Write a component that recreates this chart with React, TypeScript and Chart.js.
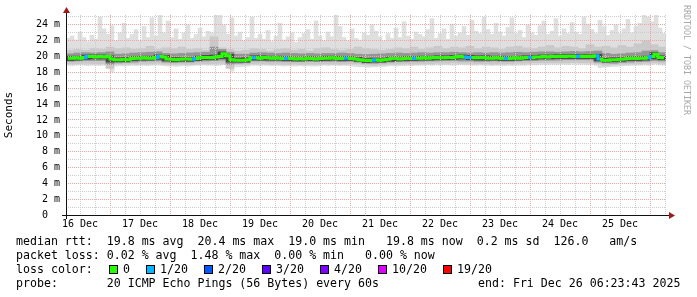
import React, { useEffect, useRef } from "react";
import { Chart, registerables } from "chart.js";

Chart.register(...registerables);

const MONO = "'DejaVu Sans Mono', 'Liberation Mono', monospace";

// time axis in hours since 16 Dec 00:00 ; graph spans 16 Dec 06:23:43 -> 26 Dec 06:23:43
const START_HOUR = 6.395;
const END_HOUR = 246.395;
const FINE_STEP = 1.6; // hours per fine sample
const COARSE_STEP = 3.2; // hours per coarse sample
const Y_MAX = 25.25;

const dayLabels = ["16 Dec", "17 Dec", "18 Dec", "19 Dec", "20 Dec", "21 Dec", "22 Dec", "23 Dec", "24 Dec", "25 Dec"];

// median rtt (ms), fine samples
const medianRtt = [
  19.8, 19.8, 19.85, 19.8, 19.9, 20.0, 20.0, 19.95, 20.0, 19.95,
  20.0, 19.7, 19.6, 19.6, 19.65, 19.6, 19.75, 19.8, 19.8, 19.85,
  19.8, 19.8, 19.9, 20.0, 19.95, 19.7, 19.65, 19.6, 19.65, 19.7,
  19.7, 19.65, 19.75, 19.85, 19.9, 19.9, 19.85, 19.95, 20.0, 20.35,
  20.1, 19.6, 19.55, 19.55, 19.55, 19.6, 19.85, 19.85, 19.8, 19.9,
  19.85, 19.8, 19.85, 19.8, 19.75, 19.8, 19.75, 19.7, 19.75, 19.7,
  19.8, 19.75, 19.7, 19.75, 19.8, 19.8, 19.85, 19.8, 19.75, 19.8,
  19.8, 19.75, 19.7, 19.6, 19.55, 19.5, 19.55, 19.6, 19.55, 19.6,
  19.65, 19.75, 19.75, 19.7, 19.75, 19.8, 19.75, 19.8, 19.8, 19.85,
  19.8, 19.85, 19.9, 19.85, 19.85, 19.9, 19.9, 19.95, 20.0, 19.95,
  19.9, 19.9, 19.85, 19.85, 19.9, 19.8, 19.8, 19.85, 19.8, 19.8,
  19.75, 19.8, 19.85, 19.8, 19.85, 19.9, 19.9, 19.95, 19.95, 20.0,
  19.95, 20.0, 20.0, 20.05, 20.0, 20.05, 20.05, 20.0, 20.05, 20.0,
  20.05, 20.0, 20.1, 19.7, 19.55, 19.55, 19.6, 19.6, 19.65, 19.7,
  19.75, 19.8, 19.75, 19.8, 19.8, 19.85, 20.0, 20.3, 19.9, 19.85,
];

// lost pings (out of 20) per fine sample
const medianLoss = [
  0, 0, 0, 0, 1, 0, 0, 0, 0, 0,
  0, 0, 0, 0, 0, 0, 0, 0, 0, 0,
  0, 0, 1, 0, 0, 0, 0, 0, 0, 0,
  0, 1, 0, 0, 0, 0, 0, 0, 0, 0,
  0, 0, 0, 0, 0, 0, 1, 0, 0, 0,
  0, 0, 0, 0, 1, 0, 0, 0, 0, 0,
  0, 0, 0, 0, 0, 0, 0, 0, 0, 1,
  0, 0, 0, 0, 0, 0, 1, 0, 0, 0,
  0, 0, 0, 0, 0, 0, 1, 0, 0, 0,
  0, 0, 0, 0, 0, 0, 0, 0, 0, 1,
  1, 0, 0, 0, 0, 0, 0, 0, 0, 1,
  0, 0, 0, 0, 0, 1, 0, 0, 0, 0,
  0, 0, 0, 0, 0, 0, 0, 1, 0, 0,
  0, 0, 1, 0, 0, 0, 0, 0, 0, 0,
  0, 0, 0, 0, 0, 1, 0, 0, 0, 0,
];

// outer smoke: slowest ping (ms), fine samples
const smokeMax = [
  22.3, 22.6, 22.1, 23.1, 22.4, 21.9, 22.7, 22.2, 25.0, 23.5,
  22.8, 23.9, 22.0, 23.0, 24.2, 22.3, 22.8, 23.4, 22.0, 23.8,
  22.4, 24.9, 22.6, 25.25, 23.0, 24.5, 22.4, 23.5, 22.2, 23.0,
  24.0, 22.3, 22.8, 23.6, 22.5, 23.2, 23.0, 25.25, 25.25, 24.0,
  22.8, 24.9, 22.6, 23.1, 22.0, 22.4, 25.0, 22.3, 22.8, 22.2,
  23.3, 21.9, 22.6, 24.2, 22.1, 22.5, 23.0, 21.8, 22.4, 22.9,
  23.4, 22.2, 24.5, 22.6, 22.0, 23.1, 22.5, 25.25, 23.8, 22.4,
  22.0, 23.5, 22.3, 22.1, 23.0, 22.7, 24.0, 23.2, 22.5, 22.0,
  22.9, 22.3, 23.6, 22.4, 24.4, 22.6, 22.2, 23.1, 22.8, 22.5,
  23.4, 24.8, 22.3, 22.9, 23.5, 22.2, 24.1, 22.6, 23.0, 23.8,
  22.7, 24.6, 23.2, 22.9, 25.0, 23.4, 22.8, 24.2, 23.1, 22.6,
  23.7, 24.9, 22.9, 23.3, 22.4, 24.0, 23.0, 22.7, 23.9, 24.5,
  22.8, 23.2, 24.8, 22.6, 23.5, 22.9, 24.3, 23.1, 22.8, 25.0,
  24.1, 23.4, 22.9, 24.6, 23.8, 22.7, 23.3, 24.0, 22.9, 23.5,
  24.7, 23.0, 23.8, 24.2, 25.25, 25.0, 24.4, 25.25, 23.6, 22.9,
];

// outer smoke: fastest ping (ms), fine samples
const smokeMin = [
  18.9, 18.85, 18.9, 18.95, 18.9, 18.85, 18.9, 18.9, 18.85, 18.9,
  18.9, 18.1, 18.8, 18.85, 18.8, 18.85, 18.9, 18.85, 18.9, 18.9,
  18.85, 18.9, 18.95, 18.9, 18.85, 18.8, 18.8, 18.75, 18.8, 18.85,
  18.8, 18.85, 18.9, 18.9, 18.95, 18.9, 18.9, 18.85, 18.9, 19.0,
  18.85, 18.15, 18.7, 18.7, 18.75, 18.8, 18.9, 18.9, 18.85, 18.9,
  18.9, 18.85, 18.9, 18.85, 18.8, 18.85, 18.8, 18.8, 18.85, 18.8,
  18.85, 18.8, 18.8, 18.85, 18.9, 18.85, 18.9, 18.9, 18.85, 18.9,
  18.85, 18.8, 18.75, 18.7, 18.7, 18.65, 18.7, 18.7, 18.75, 18.75,
  18.8, 18.85, 18.8, 18.85, 18.85, 18.9, 18.85, 18.9, 18.9, 18.9,
  18.95, 18.9, 18.95, 18.9, 18.95, 18.95, 18.9, 18.95, 19.0, 18.95,
  18.95, 18.9, 18.9, 18.95, 18.9, 18.9, 18.85, 18.9, 18.9, 18.85,
  18.9, 18.85, 18.9, 18.9, 18.9, 18.95, 18.95, 18.95, 19.0, 19.0,
  19.0, 19.05, 19.0, 19.05, 19.05, 19.0, 19.05, 19.05, 19.0, 19.05,
  19.0, 19.0, 18.9, 18.6, 18.65, 18.7, 18.75, 18.75, 18.8, 18.85,
  18.85, 18.9, 18.9, 18.9, 18.95, 18.9, 19.0, 19.1, 18.95, 18.9,
];

// second smoke band (coarse samples)
const smokeHi2 = [
  20.8, 20.9, 20.8, 21.0, 20.9, 21.2, 21.0, 21.1, 20.9, 21.0,
  21.3, 20.9, 21.1, 21.0, 21.2, 20.9, 21.0, 20.8, 22.5, 21.1,
  20.9, 20.7, 20.8, 21.0, 20.9, 20.7, 20.9, 21.0, 20.8, 20.9,
  20.7, 21.0, 21.1, 20.9, 20.8, 20.9, 21.2, 21.0, 20.9, 20.8,
  20.9, 21.1, 21.0, 21.2, 20.9, 21.1, 21.3, 21.0, 21.2, 21.1,
  21.3, 21.0, 21.2, 21.1, 20.9, 21.2, 21.3, 21.1, 21.0, 21.2,
  21.4, 21.1, 21.3, 21.2, 21.0, 21.5, 21.2, 21.3, 21.1, 21.4,
  21.2, 21.6, 22.0, 21.5, 21.2,
];
const smokeLo2 = [
  19.1, 19.1, 19.15, 19.1, 19.1, 18.5, 19.05, 19.05, 19.1, 19.05,
  19.1, 19.15, 19.05, 19.0, 19.05, 19.0, 19.05, 19.1, 19.1, 19.15,
  18.5, 19.0, 19.0, 19.1, 19.1, 19.05, 19.05, 19.0, 19.05, 19.0,
  19.05, 19.05, 19.1, 19.05, 19.05, 19.1, 19.1, 18.95, 18.9, 18.95,
  19.05, 19.05, 19.1, 19.05, 19.1, 19.1, 19.15, 19.15, 19.2, 19.15,
  19.15, 19.1, 19.1, 19.05, 19.1, 19.1, 19.15, 19.15, 19.2, 19.2,
  19.2, 19.2, 19.2, 19.25, 19.2, 19.2, 19.1, 18.9, 19.0, 19.05,
  19.1, 19.1, 19.15, 19.2, 19.15,
];

// third smoke band (coarse samples)
const smokeHi3 = [
  20.35, 20.45, 20.5, 20.45, 20.5, 20.6, 20.3, 20.35, 20.45, 20.5,
  20.55, 20.6, 20.4, 20.35, 20.4, 20.45, 20.5, 20.55, 21.2, 20.9,
  20.55, 20.3, 20.3, 20.45, 20.5, 20.45, 20.4, 20.45, 20.4, 20.35,
  20.4, 20.35, 20.4, 20.4, 20.45, 20.4, 20.3, 20.25, 20.3, 20.35,
  20.4, 20.45, 20.4, 20.45, 20.5, 20.45, 20.5, 20.5, 20.55, 20.5,
  20.45, 20.5, 20.45, 20.5, 20.45, 20.5, 20.55, 20.5, 20.55, 20.6,
  20.6, 20.55, 20.6, 20.65, 20.6, 20.65, 20.7, 20.4, 20.3, 20.35,
  20.45, 20.5, 20.7, 20.75, 20.5,
];
const smokeLo3 = [
  19.4, 19.45, 19.5, 19.5, 19.5, 19.0, 19.2, 19.25, 19.3, 19.4,
  19.45, 19.45, 19.3, 19.25, 19.3, 19.3, 19.4, 19.45, 19.5, 19.55,
  19.0, 19.15, 19.2, 19.45, 19.45, 19.4, 19.4, 19.35, 19.35, 19.35,
  19.4, 19.4, 19.4, 19.4, 19.35, 19.4, 19.3, 19.15, 19.15, 19.2,
  19.3, 19.35, 19.35, 19.4, 19.4, 19.45, 19.45, 19.5, 19.5, 19.45,
  19.45, 19.4, 19.4, 19.45, 19.4, 19.4, 19.45, 19.5, 19.5, 19.55,
  19.55, 19.55, 19.6, 19.6, 19.6, 19.6, 19.3, 19.2, 19.15, 19.25,
  19.3, 19.35, 19.4, 19.5, 19.45,
];

// innermost smoke band (coarse samples)
const smokeHi4 = [
  20.05, 20.05, 20.2, 20.2, 20.2, 20.1, 19.85, 19.9, 20.0, 20.05,
  20.05, 20.2, 20.15, 19.9, 19.9, 19.9, 20.05, 20.15, 20.2, 20.6,
  20.3, 19.8, 19.85, 20.1, 20.1, 20.05, 20.05, 20.0, 19.95, 19.95,
  20.0, 19.95, 20.05, 20.05, 20.0, 20.0, 19.9, 19.75, 19.8, 19.8,
  19.95, 19.95, 20.0, 20.0, 20.05, 20.05, 20.1, 20.1, 20.15, 20.2,
  20.15, 20.1, 20.1, 20.05, 20.05, 20.0, 20.05, 20.1, 20.15, 20.2,
  20.2, 20.25, 20.25, 20.25, 20.25, 20.25, 20.3, 19.8, 19.85, 19.9,
  20.0, 20.0, 20.05, 20.5, 20.1,
];
const smokeLo4 = [
  19.5, 19.55, 19.65, 19.7, 19.7, 19.3, 19.35, 19.35, 19.5, 19.55,
  19.55, 19.65, 19.45, 19.35, 19.4, 19.4, 19.5, 19.6, 19.6, 19.75,
  19.3, 19.3, 19.3, 19.55, 19.55, 19.55, 19.55, 19.5, 19.45, 19.45,
  19.5, 19.45, 19.5, 19.55, 19.5, 19.5, 19.4, 19.25, 19.3, 19.3,
  19.4, 19.45, 19.5, 19.5, 19.55, 19.55, 19.6, 19.6, 19.65, 19.7,
  19.6, 19.55, 19.55, 19.55, 19.5, 19.5, 19.55, 19.6, 19.65, 19.7,
  19.7, 19.75, 19.75, 19.75, 19.75, 19.75, 19.45, 19.3, 19.35, 19.4,
  19.5, 19.5, 19.55, 19.7, 19.6,
];

const lossLabels = ["0", "1/20", "2/20", "3/20", "4/20", "10/20", "19/20"];
const lossColors = ["#26ff00", "#00b8ff", "#0059ff", "#5e00ff", "#7e00ff", "#dd00ff", "#ff0000"];
const lossThresholds = [0, 1, 2, 3, 4, 10, 19];

const statsLines = [
  "median rtt:  19.8 ms avg  20.4 ms max  19.0 ms min   19.8 ms now  0.2 ms sd  126.0   am/s",
  "packet loss: 0.02 % avg  1.48 % max  0.00 % min   0.00 % now",
];
const probeText = "probe:       20 ICMP Echo Pings (56 Bytes) every 60s";
const endText = "end: Fri Dec 26 06:23:43 2025";

const GRID_RED = "#f0a4a4";
const GRID_GRAY = "#cdcdcd";
const ARROW = "#a01818";

function colorForLoss(n: number): string {
  let idx = 0;
  for (let k = 0; k < lossThresholds.length; k++) if (n >= lossThresholds[k]) idx = k;
  return lossColors[idx];
}

function smokeBand(lo: number[], hi: number[], step: number, px: number, color: string, order: number) {
  return {
    type: "bar" as const,
    data: lo.map((l, i) => ({ x: START_HOUR + step * (i + 0.5), y: [l, hi[i]] })),
    backgroundColor: color,
    borderWidth: 0,
    barThickness: px,
    grouped: false,
    order,
  };
}

const rrdPlugin = {
  id: "rrdDecor",
  beforeDatasetDraw(chart: any, args: any) {
    if (args.index === 0) {
      chart.scales.x.drawGrid(chart.chartArea);
      chart.scales.y.drawGrid(chart.chartArea);
    }
  },
  afterDraw(chart: any) {
    const { ctx, chartArea: a } = chart;
    ctx.save();
    ctx.strokeStyle = "#111";
    ctx.lineWidth = 1;
    ctx.beginPath();
    ctx.moveTo(a.left - 4, a.bottom + 0.5);
    ctx.lineTo(a.right + 3, a.bottom + 0.5);
    ctx.moveTo(a.left + 0.5, a.bottom + 4);
    ctx.lineTo(a.left + 0.5, a.top - 4);
    ctx.stroke();
    ctx.fillStyle = ARROW;
    ctx.beginPath();
    ctx.moveTo(a.left + 0.5, a.top - 8);
    ctx.lineTo(a.left - 3, a.top - 2);
    ctx.lineTo(a.left + 4, a.top - 2);
    ctx.closePath();
    ctx.fill();
    ctx.beginPath();
    ctx.moveTo(a.right + 9, a.bottom + 0.5);
    ctx.lineTo(a.right + 3, a.bottom - 3);
    ctx.lineTo(a.right + 3, a.bottom + 4);
    ctx.closePath();
    ctx.fill();
    ctx.restore();
  },
};

export default function App() {
  const ref = useRef<HTMLCanvasElement>(null);

  useEffect(() => {
    const canvas = ref.current;
    if (!canvas) return;
    const medianData = medianRtt.map((v, i) => ({ x: START_HOUR + FINE_STEP * (i + 0.5), y: v }));
    const chart = new Chart(canvas, {
      type: "bar",
      data: {
        datasets: [
          {
            type: "line",
            data: medianData,
            borderColor: lossColors[0],
            borderWidth: 3,
            pointRadius: 0,
            stepped: "middle",
            fill: false,
            order: 0,
            segment: {
              borderColor: (c: any) => colorForLoss(medianLoss[c.p0DataIndex] || 0),
            },
          } as any,
          smokeBand(smokeLo4, smokeHi4, COARSE_STEP, 8, "#484848", 1),
          smokeBand(smokeLo3, smokeHi3, COARSE_STEP, 8, "#959595", 2),
          smokeBand(smokeLo2, smokeHi2, COARSE_STEP, 8, "#c9c9c9", 3),
          smokeBand(smokeMin, smokeMax, FINE_STEP, 4, "#dfdfdf", 4),
        ] as any,
      },
      options: {
        animation: false,
        responsive: false,
        events: [],
        layout: { padding: { top: 15, right: 31, bottom: 62, left: 0 } },
        plugins: { legend: { display: false }, tooltip: { enabled: false } },
        scales: {
          x: {
            type: "linear",
            min: START_HOUR,
            max: END_HOUR,
            offset: false,
            afterBuildTicks: (s: any) => {
              const t: any[] = [];
              for (let h = 12; h <= END_HOUR; h += 6) t.push({ value: h });
              s.ticks = t;
            },
            afterFit: (s: any) => {
              s.height = 20;
            },
            grid: {
              offset: false,
              drawTicks: false,
              lineWidth: 1,
              color: (c: any) => (c.tick && c.tick.value % 24 === 0 ? GRID_RED : GRID_GRAY),
            },
            border: { display: false, dash: [1, 1] },
            ticks: {
              autoSkip: false,
              maxRotation: 0,
              minRotation: 0,
              padding: 3,
              color: "#000",
              font: { family: MONO, size: 10 },
              callback: (v: any) => {
                const n = Number(v);
                if (n % 24 !== 12) return "";
                return dayLabels[(n - 12) / 24] || "";
              },
            },
          },
          y: {
            type: "linear",
            min: 0,
            max: Y_MAX,
            afterBuildTicks: (s: any) => {
              const t: any[] = [];
              for (let v = 0; v <= 25; v += 1) t.push({ value: v });
              s.ticks = t;
            },
            afterFit: (s: any) => {
              s.width = 66;
            },
            grid: {
              drawTicks: false,
              lineWidth: 1,
              color: (c: any) => (c.tick && c.tick.value % 2 === 0 ? GRID_RED : GRID_GRAY),
            },
            border: { display: false, dash: [1, 1] },
            ticks: {
              autoSkip: false,
              padding: 6,
              color: "#000",
              font: { family: MONO, size: 10 },
              callback: (v: any) => {
                const n = Number(v);
                if (n % 2 !== 0) return "";
                return n === 0 ? "0  " : `${n} m`;
              },
            },
            title: {
              display: true,
              text: "Seconds",
              color: "#000",
              font: { family: MONO, size: 11 },
              padding: { top: 3, bottom: 0 },
            },
          },
        },
      } as any,
      plugins: [rrdPlugin],
    });
    return () => chart.destroy();
  }, []);

  const lossItems: { box: number; text: number; label: string; color: string }[] = [];
  let cx = 109;
  lossLabels.forEach((label, i) => {
    lossItems.push({ box: cx, text: cx + 14, label, color: lossColors[i] });
    cx += 14 + label.length * 7 + 16;
  });

  const textStyle: React.CSSProperties = {
    position: "absolute",
    left: 16,
    font: `11.6px ${MONO}`,
    lineHeight: "14px",
    whiteSpace: "pre",
    color: "#000",
  };

  return (
    <div style={{ position: "absolute", left: 0, top: 0, width: 697, height: 297, background: "#fff", overflow: "hidden" }}>
      <canvas ref={ref} width={697} height={297} style={{ display: "block", width: 697, height: 297 }} />
      <div style={{ ...textStyle, top: 234 }}>{statsLines[0]}</div>
      <div style={{ ...textStyle, top: 248 }}>{statsLines[1]}</div>
      <div style={{ ...textStyle, top: 262 }}>loss color:</div>
      {lossItems.map((it) => (
        <React.Fragment key={it.label}>
          <div
            style={{
              position: "absolute",
              left: it.box,
              top: 265,
              width: 9,
              height: 9,
              boxSizing: "border-box",
              border: "1px solid #000",
              background: it.color,
            }}
          />
          <div style={{ ...textStyle, left: it.text, top: 262 }}>{it.label}</div>
        </React.Fragment>
      ))}
      <div style={{ ...textStyle, top: 276 }}>{probeText}</div>
      <div style={{ ...textStyle, left: 478, top: 276 }}>{endText}</div>
      <div
        style={{
          position: "absolute",
          left: 682,
          top: 5,
          writingMode: "vertical-rl",
          font: `8.3px ${MONO}`,
          lineHeight: "9px",
          color: "#a8a8a8",
          whiteSpace: "pre",
        }}
      >
        RRDTOOL / TOBI OETIKER
      </div>
    </div>
  );
}
